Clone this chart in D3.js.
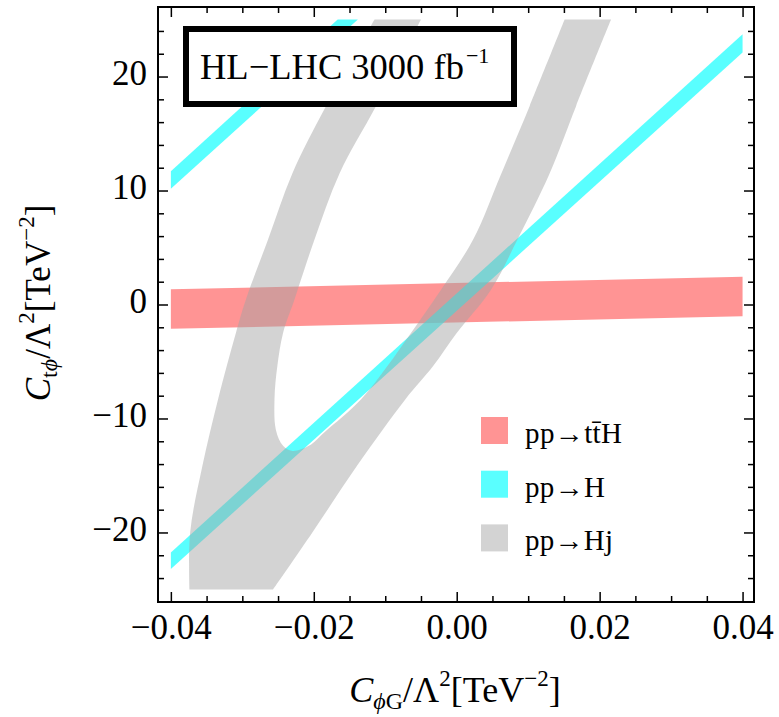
<!DOCTYPE html>
<html>
<head>
<meta charset="utf-8">
<script src="https://cdn.jsdelivr.net/npm/d3@7"></script>
<style>
  body { margin: 0; background: #fff; }
  svg text { font-family: "Liberation Serif", "Times New Roman", serif; fill: #000; }
</style>
</head>
<body>
<svg id="chart" width="779" height="717"></svg>
<script>
// ---- data ----
const xMajor = [-0.04, -0.02, 0, 0.02, 0.04];
const xMinor = [-0.035, -0.03, -0.025, -0.015, -0.01, -0.005, 0.005, 0.01, 0.015, 0.025, 0.03, 0.035];
const yMajor = [-20, -10, 0, 10, 20];
const yMinor = [-24, -22, -18, -16, -14, -12, -8, -6, -4, -2, 2, 4, 6, 8, 12, 14, 16, 18, 22, 24];

// pp -> ttH band (corners)
const ttHBand = [[-0.04, -2.13], [0.04, -1.03], [0.04, 2.43], [-0.04, 1.34]];
// pp -> H : two parallel bands
const hBandLow = [[-0.04, -23.2], [0.04, 22.1], [0.04, 23.7], [-0.04, -21.75]];
const hBandHigh = [[-0.04, 10.15], [-0.01383, 25], [-0.01666, 25], [-0.04, 11.7]];
// pp -> Hj : U-shaped region, boundary pieces
const hjOuterLeft = [[-0.0374, -25], [-0.0373, -20], [-0.0356, -14.2], [-0.0334, -8.33], [-0.0309, -2.5],
  [-0.0295, 0.44], [-0.0264, 5.7], [-0.0230, 11.5], [-0.0183, 17.4], [-0.0115, 25]];
const hjHole = [[-0.0050, 25], [-0.0113, 17.4], [-0.0164, 11.5], [-0.0199, 5.7], [-0.0227, 0.44],
  [-0.0243, -2.5], [-0.0251, -5.4], [-0.0255, -8.33], [-0.0253, -11.0], [-0.0243, -12.4],
  [-0.0230, -12.85], [-0.0207, -12.4], [-0.0185, -11.2], [-0.0134, -8.33], [-0.0097, -5.4],
  [-0.0064, -2.5], [-0.0022, 1.3], [0.0023, 5.7], [0.00625, 11.5], [0.0102, 17.4], [0.0151, 25]];
const hjOuterRight = [[0.0216, 25], [0.0167, 17.4], [0.0130, 11.5], [0.0085, 5.7], [0.0048, 1.3],
  [0.0000, -2.5], [-0.0033, -5.4], [-0.0072, -8.33], [-0.0140, -14.2], [-0.0202, -20], [-0.0257, -25]];

const legendLabels = ["pp\u2192tt\u0304H", "pp\u2192H", "pp\u2192Hj"];
const legendWidths = [97, 80, 88];
const legendColors = ["#ff9494", "#5affff", "#d3d3d3"];

// ---- layout ----
const svg = d3.select("#chart");
const plot = { left: 158, right: 754, top: 7, bottom: 602 };

const x = d3.scaleLinear().domain([-0.0418, 0.0416]).range([plot.left, plot.right]);
const y = d3.scaleLinear().domain([-26.1, 26.1]).range([plot.bottom, plot.top]);

const line = d3.line().x((d) => x(d[0])).y((d) => y(d[1]));
const curve = d3.line().x((d) => x(d[0])).y((d) => y(d[1])).curve(d3.curveCatmullRom.alpha(0.5));

// bands
svg.append("path")
  .attr("d", line(ttHBand) + "Z")
  .attr("fill", "rgb(255,0,0)")
  .attr("fill-opacity", 0.42);

svg.append("g")
  .selectAll("path")
  .data([hBandLow, hBandHigh])
  .join("path")
  .attr("d", (d) => line(d) + "Z")
  .attr("fill", "rgb(0,255,255)")
  .attr("fill-opacity", 0.65);

const hjPath = curve(hjOuterLeft)
  + curve(hjHole).replace(/^M/, "L")
  + curve(hjOuterRight).replace(/^M/, "L") + "Z";
svg.append("path")
  .attr("d", hjPath)
  .attr("fill", "rgb(163,163,163)")
  .attr("fill-opacity", 0.48);

// axes
const fmtX = d3.format(".2f");
const fmtY = d3.format("d");

function styleAxis(g, size) {
  g.select(".domain").remove();
  g.selectAll("line").attr("stroke", "#000").attr("stroke-width", 1.5);
  g.attr("font-size", size).attr("font-family", null);
}

const axBottom = svg.append("g").attr("transform", `translate(0,${plot.bottom})`);
axBottom.append("g").call(d3.axisBottom(x).tickValues(xMajor).tickSize(-10).tickPadding(12).tickFormat(fmtX)).call(styleAxis, 35);
axBottom.append("g").call(d3.axisBottom(x).tickValues(xMinor).tickSize(-6).tickFormat("")).call(styleAxis, 35);

const axTop = svg.append("g").attr("transform", `translate(0,${plot.top})`);
axTop.append("g").call(d3.axisTop(x).tickValues(xMajor).tickSize(-10).tickFormat("")).call(styleAxis, 35);
axTop.append("g").call(d3.axisTop(x).tickValues(xMinor).tickSize(-6).tickFormat("")).call(styleAxis, 35);

const axLeft = svg.append("g").attr("transform", `translate(${plot.left},0)`);
axLeft.append("g").call(d3.axisLeft(y).tickValues(yMajor).tickSize(-10).tickPadding(11).tickFormat(fmtY)).call(styleAxis, 35);
axLeft.append("g").call(d3.axisLeft(y).tickValues(yMinor).tickSize(-6).tickFormat("")).call(styleAxis, 35);
axLeft.selectAll("text").attr("dy", 8);

const axRight = svg.append("g").attr("transform", `translate(${plot.right},0)`);
axRight.append("g").call(d3.axisRight(y).tickValues(yMajor).tickSize(-10).tickFormat("")).call(styleAxis, 35);
axRight.append("g").call(d3.axisRight(y).tickValues(yMinor).tickSize(-6).tickFormat("")).call(styleAxis, 35);

// frame
svg.append("rect")
  .attr("x", plot.left).attr("y", plot.top)
  .attr("width", plot.right - plot.left).attr("height", plot.bottom - plot.top)
  .attr("fill", "none").attr("stroke", "#000").attr("stroke-width", 2);

// label box
svg.append("rect")
  .attr("x", 186).attr("y", 29).attr("width", 328).attr("height", 75)
  .attr("fill", "#fff").attr("stroke", "#000").attr("stroke-width", 6);
const boxText = svg.append("text").attr("x", 200).attr("y", 79).attr("font-size", 36.5);
boxText.append("tspan").text("HL\u2212LHC 3000 fb");
boxText.append("tspan").attr("font-size", 22).attr("dx", 2).attr("dy", -16).text("\u22121");

// legend
const legend = svg.append("g")
  .selectAll("g")
  .data(legendLabels)
  .join("g")
  .attr("transform", (d, i) => `translate(481,${417 + i * 53.7})`);
legend.append("rect").attr("width", 27).attr("height", 27).attr("fill", (d, i) => legendColors[i]);
legend.append("text")
  .attr("x", 44).attr("y", 26).attr("font-size", 29)
  .attr("textLength", (d, i) => legendWidths[i])
  .attr("lengthAdjust", "spacing")
  .text((d) => d);

// axis titles
const xt = svg.append("text")
  .attr("x", 455).attr("y", 702)
  .attr("text-anchor", "middle")
  .attr("font-size", 36);
xt.append("tspan").attr("font-style", "italic").text("C");
xt.append("tspan").attr("font-size", 24).attr("dy", 7).attr("font-style", "italic").text("\u03d5");
xt.append("tspan").attr("font-size", 24).text("G");
xt.append("tspan").attr("dy", -7).text("/\u039b");
xt.append("tspan").attr("font-size", 23).attr("dy", -16).text("2");
xt.append("tspan").attr("dy", 16).text("[TeV");
xt.append("tspan").attr("font-size", 23).attr("dy", -16).text("\u22122");
xt.append("tspan").attr("dy", 16).text("]");

const yt = svg.append("text")
  .attr("transform", "translate(50,303) rotate(-90)")
  .attr("text-anchor", "middle")
  .attr("font-size", 35);
yt.append("tspan").attr("font-style", "italic").text("C");
yt.append("tspan").attr("font-size", 24).attr("dy", 7).text("t");
yt.append("tspan").attr("font-size", 24).attr("font-style", "italic").text("\u03d5");
yt.append("tspan").attr("dy", -7).text("/\u039b");
yt.append("tspan").attr("font-size", 23).attr("dy", -16).text("2");
yt.append("tspan").attr("dy", 16).text("[TeV");
yt.append("tspan").attr("font-size", 23).attr("dy", -16).text("\u22122");
yt.append("tspan").attr("dy", 16).text("]");
</script>
</body>
</html>
